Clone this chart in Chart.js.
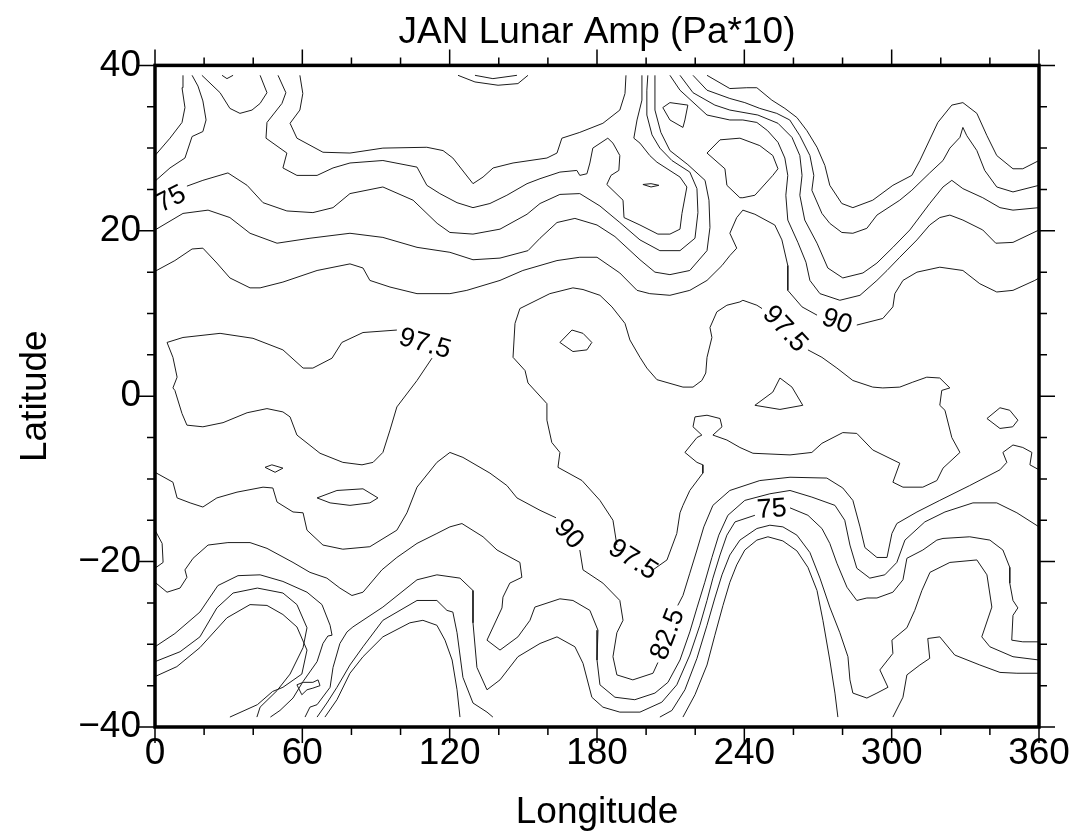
<!DOCTYPE html>
<html>
<head>
<meta charset="utf-8">
<script src="https://cdn.jsdelivr.net/npm/chart.js@4.4.0/dist/chart.umd.min.js"></script>
<style>
  html, body { margin: 0; padding: 0; background: #fff; }
  canvas { display: block; }
</style>
</head>
<body>
<canvas id="lunarChart" width="1072" height="835"></canvas>
<script>
// contour lines, each point is [longitude, latitude]
// --- north
const c01 = [[0,29.1],[6.1,31.2],[11,33.1],[12.2,34.9],[11,37.3],[11.4,38.8]];
const c02 = [[0,26.0],[6.1,27.6],[12.2,28.8],[15.1,31.4],[19.5,32.0],[20.8,33.4],[19.5,35.7],[17.5,37.5],[15.1,38.8]];
const c03 = [[27.3,38.8],[29.3,38.4],[31.8,38.8]];
const c04 = [[19.1,38.8],[26.5,36.7],[30.5,34.8],[34.6,34.2],[39.5,34.6],[42.8,35.4],[45.6,36.7],[42.8,38.8]];
const c05 = [[50.1,38.8],[53.3,36.7],[51.7,35.4],[45.6,33.1],[45.2,31.2],[53.7,29.4],[52.1,27.6],[57.8,26.7],[66.0,26.7],
  [72.5,27.6],[79.4,28.2],[92.8,28.5],[106.7,27.7],[110.7,25.5],[116.0,24.5],[123.0,23.4],[129.5,22.8],[136.4,23.3],
  [143.3,24.3],[151.5,25.7],[156.8,26.3],[164.9,27.1],[171.8,27.3],[173.0,26.7],[175.9,26.9],[177.1,28.2],[178.3,30.0],
  [184.4,31.2],[186.5,30.6],[189.3,29.1],[188.9,27.3],[185.7,26.7],[184.0,25.6],[190.6,23.7],[191.0,21.6],[197.5,20.7],
  [204.8,19.6],[209.7,19.6],[213.8,20.2],[214.6,22.1],[216.6,25.3],[213.8,26.5],[204.4,28.3],[201.5,29.1],[197.5,30.6],
  [195.0,31.2],[196.3,33.4],[198.3,35.8],[198.3,38.8]];
const c06 = [[59.0,38.8],[60.2,36.6],[59.0,34.6],[55.0,33.0],[57.8,31.2],[68.4,29.5],[79.4,29.4],[92.8,30.0],[110.7,30.1],
  [117.3,29.7],[121.3,28.8],[129.5,25.7],[133.6,26.5],[137.7,27.6],[145.8,28.2],[159.6,28.8],[163.7,29.4],[165.7,31.2],
  [173.0,31.9],[182.4,33.0],[189.3,34.6],[191.4,36.6],[191.8,38.8]];
const c07 = [[13.0,25.4],[19.5,26.1],[29.7,27.0],[37.5,25.5],[44.0,23.4],[53.7,22.4],[64.3,22.2],[72.5,22.8],[79.4,24.5],
  [92.8,25.3],[105.1,23.7],[114.9,20.9],[120.1,19.8],[129.5,19.6],[140.5,20.2],[151.5,22.0],[156.8,23.3],[164.9,24.4],
  [173.0,24.5],[181.2,23.0],[189.3,21.0],[197.5,18.9],[205.6,17.6],[213.8,17.6],[219.9,19.1],[221.1,22.2],[220.7,25.1],
  [217.8,27.1],[210.5,28.5],[205.6,30.0],[202.4,31.6],[200.3,34.0],[200.3,37.0],[200.7,38.8]];
const c08 = [[0,20.1],[11.4,22.1],[21.6,22.5],[30.5,21.6],[38.7,19.7],[49.7,18.5],[63.1,19.1],[79.4,19.7],[92.8,19.2],
  [106.7,18.0],[120.1,17.4],[129.5,16.5],[140.5,16.7],[151.9,17.6],[156.8,19.1],[163.7,21.0],[171.0,21.5],[180.0,20.7],
  [187.3,19.3],[197.5,16.5],[203.6,15.0],[209.7,14.7],[217.8,15.2],[224.8,17.6],[226.0,20.4],[225.6,23.7],[224.0,26.1],
  [217.0,28.0],[209.7,29.7],[206.0,31.9],[203.6,34.6],[203.6,38.8]];
const c09 = [[0,15.1],[8.1,16.4],[15.1,17.8],[19.5,17.9],[25.2,16.1],[30.5,14.3],[38.7,13.1],[42.8,13.1],[52.1,13.8],
  [66.0,15.2],[79.4,16.0],[84.7,15.5],[87.5,14.0],[95.7,13.2],[106.7,12.4],[120.1,12.4],[127.0,12.8],[140.5,14.0],
  [149.8,15.2],[163.7,16.4],[173.0,16.8],[180.0,16.8],[189.3,14.9],[196.3,12.8],[201.5,12.4],[209.7,12.2],[217.8,12.8],
  [224.8,14.0],[230.9,15.8],[234.1,17.0],[236.9,17.9],[234.1,19.7],[236.9,21.6],[239.4,22.5],[244.3,22.0],[252.4,20.7],
  [255.3,18.9],[257.7,15.8],[257.7,12.8],[263.5,10.8],[269.6,9.8]];
const c09b = [[285.8,8.6],[296.4,9.4],[300.5,10.8],[301.3,12.4],[304.6,14.0],[310.3,15.0],[319.6,15.6],[329.0,15.2],
  [335.9,13.6],[342.8,12.6],[349.4,12.8],[358.3,14.0],[360,14.3]];
const r1 = [[224.8,38.8],[234.1,37.2],[241.0,37.3],[245.1,37.3],[251.2,35.8],[256.5,34.8],[261.4,33.7],[265.5,32.1],
  [269.6,30.1],[272.8,27.9],[274.8,25.5],[279.7,23.3],[284.2,22.8],[292.3,23.7],[300.5,25.5],[308.2,26.7],[311.5,28.5],
  [318.8,33.1],[324.5,35.2],[329.0,35.5],[334.7,34.2],[338.8,31.5],[342.8,29.1],[349.4,27.5],[353.4,27.5],[360,28.5]];
const r2 = [[219.1,38.8],[224.8,37.0],[234.1,36.0],[240.2,35.5],[246.3,34.8],[253.2,34.2],[258.5,33.4],[262.6,31.5],
  [266.7,29.1],[268.3,26.7],[267.5,24.9],[271.6,22.1],[274.8,20.9],[279.7,19.8],[284.2,19.7],[289.9,20.3],[294.0,21.9],
  [303.3,23.7],[308.2,24.9],[315.5,27.0],[320.9,28.5],[323.7,30.0],[327.8,31.3],[329.0,32.5],[330.6,31.5],[334.7,29.7],
  [337.9,27.3],[342.8,25.3],[349.4,24.7],[360,25.5]];
const r3 = [[213.8,38.8],[219.1,36.7],[228.0,35.2],[234.1,34.6],[245.5,34.0],[253.7,33.0],[259.4,31.3],[262.6,29.1],
  [263.5,26.7],[262.6,24.3],[264.6,21.3],[269.6,18.5],[274.0,15.5],[280.1,14.3],[288.3,14.9],[294.0,16.1],[300.5,18.0],
  [307.4,20.1],[315.5,23.3],[320.9,25.3],[324.5,26.1],[329.0,25.1],[337.1,24.0],[344.1,22.8],[349.4,22.5],[360,22.8]];
const r4 = [[209.7,38.8],[213.8,37.0],[224.8,34.0],[234.1,33.4],[239.4,33.4],[245.1,33.1],[249.5,32.1],[253.7,30.7],
  [256.5,28.8],[257.7,26.7],[256.9,24.3],[257.7,21.3],[261.8,18.6],[265.1,16.2],[266.7,14.0],[270.8,12.4],[278.9,11.6],
  [287.1,12.2],[294.0,14.0],[298.1,15.2],[303.3,16.8],[310.3,18.9],[315.5,20.7],[319.6,21.6],[323.7,21.9],[329.0,21.3],
  [337.1,20.1],[342.4,18.5],[349.4,18.6],[360,20.1]];
const arcA = [[123.4,38.8],[130.3,38.0],[139.7,37.6],[147.8,37.8],[151.9,38.8]];
const arcB = [[130.3,38.8],[137.6,38.4],[147.4,38.8]];
const isle1 = [[224.8,29.4],[230.1,31.0],[238.2,31.2],[246.3,30.3],[251.6,29.1],[253.7,27.5],[251.6,26.7],[244.3,24.3],
  [239.4,24.0],[238.2,24.0],[232.9,25.5],[232.1,27.5],[224.8,29.4]];
const isle2 = [[206.8,34.9],[209.7,35.5],[217.0,35.2],[215.8,33.4],[215.0,32.5],[209.7,33.4],[206.8,34.9]];
const c13 = [[198.7,25.6],[202.0,25.7],[205.2,25.5],[202.0,25.3],[198.7,25.6]];

// --- equator band
const c10 = [[112.8,4.6],[106.7,1.9],[98.5,-1.3],[95.7,-4.1],[92.8,-6.8],[88.8,-8.0],[84.3,-8.3],[76.5,-8.0],[67.2,-6.9],
  [57.8,-4.7],[55.0,-2.5],[52.1,-1.9],[45.6,-1.5],[37.5,-2.0],[27.7,-3.2],[19.5,-3.7],[13.0,-3.5],[11.0,-2.1],[8.1,0.7],
  [7.3,1.0],[9.0,2.3],[7.3,4.7],[4.9,6.5],[11.4,7.1],[26.5,7.6],[39.9,7.0],[52.1,5.6],[60.3,3.4],[64.3,3.4],[72.1,4.6],
  [76.1,6.5],[84.7,7.7],[98.5,8.0]];
const midA = [[265.9,5.6],[271.6,4.7],[277.7,3.4],[284.2,1.9],[292.3,1.1],[296.4,1.0],[303.3,1.1],[308.6,1.7],[314.3,2.3],
  [319.6,2.2],[323.7,1.0],[320.4,0.7],[319.6,-1.1],[321.7,-1.7],[324.5,-5.0],[327.8,-6.8],[320.9,-8.7],[318.4,-10.2],
  [312.7,-11.0],[304.6,-11.0],[300.5,-10.4],[303.3,-8.1],[292.3,-6.5],[285.8,-4.5],[280.1,-4.4],[271.6,-5.7],[267.5,-6.8],
  [258.6,-7.1],[243.5,-6.9],[238.2,-6.2],[232.9,-5.3],[227.2,-4.7],[230.9,-3.7],[230.1,-2.7],[224.8,-2.3],[219.9,-2.5],
  [219.1,-3.7],[222.7,-4.7],[220.7,-5.0],[215.8,-6.8],[220.7,-8.0],[223.1,-8.3],[223.1,-9.3],[217.8,-11.4],[215.0,-13.2],
  [213.8,-14.1],[212.5,-16.6],[208.5,-19.8],[202.8,-21.0]];
const midB = [[188.1,-18.0],[186.5,-15.0],[181.2,-12.6],[173.9,-10.2],[164.1,-8.6],[164.9,-6.8],[161.6,-5.6],[159.6,-2.9],
  [159.6,-0.9],[151.9,1.6],[150.7,3.1],[145.8,4.7],[146.6,8.8],[148.6,10.6],[160.8,12.4],[170.2,13.1],[174.3,12.9],
  [181.2,12.2],[186.1,10.8],[191.4,8.8],[193.4,6.8],[197.5,4.7],[200.3,3.4],[204.4,2.0],[215.0,1.1],[219.1,1.1],
  [222.7,1.9],[224.3,2.8],[224.8,4.7],[226.8,7.1],[226.0,8.3],[228.8,10.2],[232.9,11.0],[238.2,11.4],[239.4,11.6],
  [245.1,11.0],[247.2,10.6]];
const loopA = [[164.9,6.5],[169.8,8.0],[174.3,7.6],[177.9,6.5],[175.9,5.6],[170.2,5.4],[164.9,6.5]];
const loopB = [[244.3,-1.1],[251.6,0.5],[254.5,2.2],[259.4,1.1],[263.8,-1.1],[254.5,-1.6],[244.3,-1.1]];
const loopC = [[338.8,-2.7],[344.1,-1.4],[348.1,-1.7],[351.4,-2.9],[349.3,-3.7],[344.1,-3.9],[338.8,-2.7]];
const c11 = [[44.8,-8.6],[47.6,-8.3],[52.1,-8.7],[48.9,-9.2],[44.8,-8.6]];
const c12 = [[66.0,-12.3],[74.1,-11.4],[84.7,-11.2],[90.8,-12.3],[87.5,-12.9],[79.4,-13.2],[71.3,-12.9],[66.0,-12.3]];

// --- south
const c14 = [[0,-9.2],[7.3,-10.4],[9.0,-12.3],[14.3,-12.9],[19.5,-13.4],[25.2,-12.3],[33.4,-11.6],[44.0,-11.0],[48.0,-11.1],
  [49.7,-12.8],[56.2,-14.0],[60.3,-14.1],[61.9,-16.2],[68.4,-18.0],[76.5,-18.5],[87.5,-18.2],[98.5,-16.2],[102.6,-14.1],
  [106.7,-11.0],[114.8,-8.0],[120.1,-6.8],[125.4,-7.4],[136.4,-9.3],[143.3,-10.8],[147.4,-12.3],[156.8,-13.8],[163.3,-14.7]];
const c15 = [[173.0,-18.6],[174.3,-21.0],[182.4,-22.6],[189.3,-24.7],[190.6,-27.1],[188.1,-28.6],[186.5,-31.5],[188.1,-33.7],
  [194.6,-34.3],[202.8,-33.5],[204.8,-32.2]];
const c19 = [[212.9,-25.3],[215.0,-24.1],[217.8,-21.4],[220.7,-18.6],[223.5,-15.8],[227.2,-13.2],[234.1,-11.4],[246.3,-10.2],
  [258.6,-9.8],[273.6,-9.9],[280.1,-11.1],[284.2,-12.6],[287.1,-15.8],[289.1,-18.3],[294.0,-19.5],[298.1,-19.5],[300.1,-16.6],
  [302.1,-15.4],[310.3,-14.0],[319.6,-12.6],[331.8,-10.8],[344.1,-8.9],[346.9,-8.0],[345.3,-6.8],[349.4,-5.9],[353.4,-6.2],
  [357.1,-6.8],[356.3,-8.3],[360,-8.9]];
const c20 = [[0,-22.5],[4.9,-23.7],[10.2,-23.2],[13.0,-21.9],[12.2,-21.0],[15.5,-19.6],[21.6,-18.0],[29.7,-17.7],[38.7,-17.7],
  [45.6,-18.4],[56.2,-20.1],[63.1,-21.3],[70.0,-22.0],[75.3,-23.2],[80.2,-24.1],[84.7,-23.7],[92.4,-21.0],[98.5,-19.5],
  [106.7,-17.8],[114.8,-16.6],[120.1,-15.8],[125.0,-15.4],[133.6,-17.0],[139.3,-18.6],[148.6,-20.1],[149.4,-21.9],
  [144.5,-22.6],[141.7,-24.3],[141.3,-25.6],[135.2,-29.5],[140.5,-30.7],[147.8,-29.1],[152.7,-27.1],[154.7,-25.5],
  [164.9,-24.5],[170.2,-24.7],[177.1,-25.9],[180.4,-28.3],[180.0,-31.9],[181.2,-34.9],[187.3,-36.4],[195.4,-36.7],
  [203.6,-35.9],[208.9,-34.6],[213.8,-31.9],[217.8,-28.5],[220.7,-25.6],[223.9,-22.5],[226.8,-19.5],[229.6,-16.8],
  [233.3,-14.4],[240.2,-12.6],[250.4,-11.8],[258.6,-11.4],[267.5,-12.2],[276.9,-13.2],[280.9,-15.0],[283.0,-18.0],
  [285.8,-20.8],[291.1,-22.0],[297.2,-21.6],[302.1,-20.1],[305.4,-17.4],[313.5,-15.2],[321.7,-14.0],[333.1,-12.9],
  [342.8,-12.9],[351.0,-14.1],[360,-15.8]];
const c21a = [[61.1,-38.8],[63.1,-37.6],[66.0,-37.3],[71.3,-35.2],[72.5,-32.8],[75.3,-29.9],[78.2,-28.5],[80.6,-27.9],
  [92.8,-25.5],[106.7,-22.2],[114.8,-21.6],[124.2,-22.0],[129.5,-23.5],[129.5,-27.4],[131.1,-32.8],[135.2,-35.5],
  [140.5,-34.3],[147.8,-31.5],[156.8,-29.9],[163.7,-29.1],[171.0,-30.3],[174.3,-32.3],[177.9,-36.4],[182.4,-37.6],
  [189.3,-38.2],[197.5,-38.2],[206.4,-37.0],[212.5,-34.9],[217.8,-31.3],[221.9,-27.7],[224.8,-24.7],[227.2,-22.0],
  [230.1,-19.2],[232.9,-16.8],[236.2,-15.2],[244.3,-14.4]];
const c21b = [[258.6,-13.5],[265.9,-14.4],[271.6,-16.0],[274.8,-17.8],[277.7,-20.2],[281.8,-23.1],[285.8,-24.7],[289.9,-24.4],
  [294.0,-24.4],[300.5,-23.7],[304.6,-22.2],[306.2,-19.6],[312.7,-18.6],[318.4,-17.4],[320.9,-17.2],[331.8,-17.0],
  [340.0,-17.4],[345.3,-18.6],[348.1,-20.7],[348.1,-22.6],[349.4,-24.7],[351.4,-25.6],[349.4,-26.5],[348.9,-29.5],
  [353.4,-29.7],[360,-29.7]];
const c22 = [[66.0,-38.8],[70.0,-37.1],[74.1,-35.2],[79.4,-32.5],[84.7,-30.3],[92.8,-27.1],[106.7,-24.7],[114.8,-24.7],
  [118.9,-25.9],[121.3,-26.1],[123.0,-28.6],[125.4,-34.0],[129.5,-37.1],[135.2,-38.2],[137.6,-38.8]];
const c23 = [[69.2,-38.8],[74.1,-36.7],[79.4,-33.5],[84.7,-31.5],[92.8,-29.1],[103.8,-27.4],[109.1,-27.1],[114.8,-27.7],
  [118.1,-29.5],[121.0,-31.9],[123.0,-35.5],[124.2,-38.8]];
const c24 = [[205.6,-38.8],[210.5,-38.0],[215.8,-35.5],[220.7,-31.7],[224.8,-27.7],[228.0,-24.4],[230.9,-21.6],[234.1,-19.2],
  [238.2,-17.4],[245.1,-16.0],[250.4,-15.6],[255.7,-15.8],[261.4,-16.8],[266.7,-18.9],[270.8,-22.0],[274.8,-25.5],
  [278.9,-28.6],[282.2,-31.5],[283.0,-34.3],[284.2,-35.9],[289.9,-36.5],[294.0,-35.9],[298.5,-35.2],[295.2,-33.1],
  [300.5,-31.1],[300.1,-29.5],[306.2,-28.0],[309.4,-25.9],[312.3,-23.5],[315.6,-21.3],[323.7,-20.1],[334.7,-19.8],
  [338.8,-21.6],[340.8,-25.5],[336.7,-29.1],[340.0,-30.3],[349.4,-31.5],[360,-31.9]];
const c25 = [[215.0,-38.8],[219.9,-36.1],[224.8,-32.5],[228.0,-28.9],[231.3,-25.3],[234.1,-22.5],[236.9,-20.4],[240.2,-18.6],
  [245.1,-17.4],[249.6,-17.0],[255.7,-17.5],[261.4,-18.7],[265.9,-20.7],[269.6,-23.5],[272.0,-27.1],[274.8,-31.9],
  [276.9,-35.9],[278.1,-38.8]];
const c26 = [[300.5,-38.8],[304.6,-36.4],[306.2,-33.7],[311.5,-32.5],[315.5,-31.7],[314.7,-29.3],[319.6,-29.1],[325.7,-31.3],
  [335.9,-32.5],[344.1,-33.4],[351.0,-33.5],[360,-33.5]];
const c27 = [[0,-16.2],[2.9,-17.8],[3.3,-20.1],[0,-20.8]];
const c16 = [[0,-33.9],[8.9,-32.7],[18.3,-30.4],[29.3,-26.8],[38.7,-25.2],[45.6,-25.3],[52.1,-26.4],[57.8,-27.9],[61.9,-30.7],
  [59.8,-33.6],[52.1,-35.2],[47.9,-35.7],[41.7,-37.3],[30.5,-38.8]];
const c17 = [[0,-32.1],[10.2,-30.9],[18.3,-29.1],[25.2,-25.6],[31.8,-23.8],[41.7,-23.2],[52.1,-23.8],[57.8,-25.2],[61.9,-28.0],
  [60.3,-30.4],[55.0,-33.6],[49.7,-35.6],[42.8,-37.6],[41.5,-38.8]];
const c18 = [[0,-30.3],[8.1,-28.7],[18.3,-26.1],[25.6,-22.9],[33.8,-21.7],[42.8,-21.6],[52.1,-22.4],[61.9,-23.7],[68.0,-25.2],
  [71.3,-27.7],[72.1,-28.9],[70.4,-29.0],[68.4,-29.9],[66.0,-32.1],[60.3,-34.5],[56.2,-36.5],[50.9,-38.0],[47.0,-38.8]];
const loopSW = [[57.8,-34.9],[60.3,-34.6],[64.3,-34.6],[66.4,-34.3],[67.2,-35.0],[64.3,-35.3],[61.9,-35.5],[59.8,-36.1],[57.8,-34.9]];

const contourLines = [c01, c02, c03, c04, c05, c06, c07, c08, c09, c09b, r1, r2, r3, r4, arcA, arcB, isle1, isle2, c13,
    c10, midA, midB, loopA, loopB, loopC, c11, c12,
    c14, c15, c19, c20, c21a, c21b, c22, c23, c24, c25, c26, c27, c16, c17, c18, loopSW];

// contour annotations
const labelText = ['75', '97.5', '90', '97.5', '90', '97.5', '82.5', '75'];
const labelLon = [6.5, 109.9, 277.7, 256.5, 168.4, 194.6, 208.9, 251.2];
const labelLat = [23.8, 6.3, 9.0, 8.1, -16.7, -19.8, -28.8, -13.7];
const labelAngle = [-27, 16, 20, 47, 48, 33, -69, -4];

// axis annotations
const lonLabels = [0, 60, 120, 180, 240, 300, 360];
const latLabels = [-40, -20, 0, 20, 40];
const lonMinorStep = 20;
const latMinorStep = 5;

const fontFamily = "'Liberation Sans', Helvetica, Arial, sans-serif";

const frameAndLabels = {
    id: 'frameAndLabels',
    afterDatasetsDraw(chart) {
        const ctx = chart.ctx;
        const xs = chart.scales.x;
        const ys = chart.scales.y;
        const area = chart.chartArea;
        ctx.save();

        // contour annotations
        ctx.fillStyle = '#000';
        ctx.font = '27px ' + fontFamily;
        ctx.textAlign = 'center';
        ctx.textBaseline = 'middle';
        labelText.forEach(function(t, i) {
            ctx.save();
            ctx.translate(xs.getPixelForValue(labelLon[i]), ys.getPixelForValue(labelLat[i]));
            ctx.rotate(labelAngle[i] * Math.PI / 180);
            ctx.fillText(t, 0, 0);
            ctx.restore();
        });

        // ticks on all four sides, pointing outward
        ctx.strokeStyle = '#000';
        ctx.lineWidth = 1.5;
        ctx.beginPath();
        for (let v = 0; v <= 360; v += lonMinorStep) {
            const px = xs.getPixelForValue(v);
            const len = lonLabels.includes(v) ? 16 : 8;
            ctx.moveTo(px, area.bottom); ctx.lineTo(px, area.bottom + len);
            ctx.moveTo(px, area.top); ctx.lineTo(px, area.top - len);
        }
        for (let v = -40; v <= 40; v += latMinorStep) {
            const py = ys.getPixelForValue(v);
            const len = latLabels.includes(v) ? 16 : 8;
            ctx.moveTo(area.left, py); ctx.lineTo(area.left - len, py);
            ctx.moveTo(area.right, py); ctx.lineTo(area.right + len, py);
        }
        ctx.stroke();

        // frame
        ctx.lineWidth = 3.5;
        ctx.strokeRect(area.left, area.top, area.right - area.left, area.bottom - area.top);
        ctx.restore();
    }
};

const ctx = document.getElementById('lunarChart').getContext('2d');
const lunarChart = new Chart(ctx, {
    type: 'scatter',
    data: {
        datasets: contourLines.map(function(line) {
            return {
                data: line.map(p => ({ x: p[0], y: p[1] })),
                showLine: true,
                borderColor: '#1c1c1c',
                borderWidth: 1,
                pointRadius: 0,
                tension: 0,
                fill: false
            };
        })
    },
    options: {
        responsive: false,
        animation: false,
        layout: { padding: { left: 0, right: 33, top: 0, bottom: 0 } },
        plugins: {
            legend: { display: false },
            tooltip: { enabled: false },
            title: {
                display: true,
                text: 'JAN Lunar Amp (Pa*10)',
                fullSize: false,
                color: '#000',
                font: { family: fontFamily, size: 37, weight: 'normal' },
                padding: { top: 11, bottom: 10 }
            }
        },
        scales: {
            x: {
                type: 'linear',
                min: 0,
                max: 360,
                afterBuildTicks: function(scale) { scale.ticks = lonLabels.map(v => ({ value: v })); },
                afterFit: function(scale) {
                    scale.height = 108;
                    // the end labels may hang past the frame, as in the original
                    scale.paddingLeft = 0;
                    scale.paddingRight = 0;
                },
                grid: { display: false, drawTicks: false },
                border: { display: false },
                ticks: {
                    color: '#000',
                    padding: 5,
                    maxRotation: 0,
                    autoSkip: false,
                    font: { family: fontFamily, size: 37 }
                },
                title: {
                    display: true,
                    text: 'Longitude',
                    color: '#000',
                    font: { family: fontFamily, size: 37 },
                    padding: { top: 0, bottom: 0 }
                }
            },
            y: {
                type: 'linear',
                min: -40,
                max: 40,
                afterBuildTicks: function(scale) { scale.ticks = latLabels.map(v => ({ value: v })); },
                afterFit: function(scale) { scale.width = 155; },
                grid: { display: false, drawTicks: false },
                border: { display: false },
                ticks: {
                    color: '#000',
                    padding: 14,
                    autoSkip: false,
                    font: { family: fontFamily, size: 37 },
                    callback: function(value) { return value < 0 ? '\u2212' + Math.abs(value) : String(value); }
                },
                title: {
                    display: true,
                    text: 'Latitude',
                    color: '#000',
                    font: { family: fontFamily, size: 37 },
                    padding: { top: 14, bottom: 0 }
                }
            }
        }
    },
    plugins: [frameAndLabels]
});
</script>
</body>
</html>
